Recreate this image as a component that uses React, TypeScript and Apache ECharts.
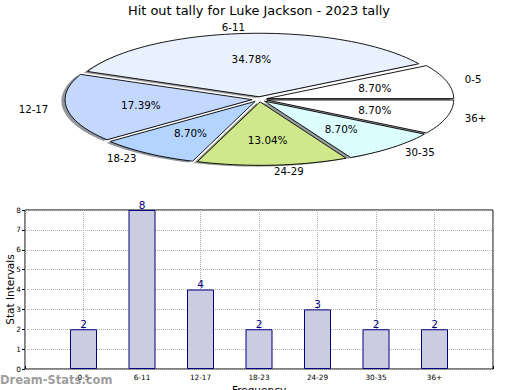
import React, { useEffect, useRef } from 'react';
import * as echarts from 'echarts';

const TITLE = 'Hit out tally for Luke Jackson - 2023 tally';
const categories = ['0-5', '6-11', '12-17', '18-23', '24-29', '30-35', '36+'];
const tallies = [2, 8, 4, 2, 3, 2, 2];
const sliceColors = ['#ffffff', '#eaf1fe', '#c4d8fe', '#b2d4fe', '#cfe88b', '#dcfeff', '#ffffff'];
const yTickValues = [0, 1, 2, 3, 4, 5, 6, 7, 8];

// pie layout (not data)
const CX = 259.5;
const CY = 99.3;
const RX = 187;
const RY = 63.5;
const EXPLODE = 0.04;
const SH_DX = -3.7;
const SH_DY = 1.3;

function shade(hex: string): string {
  const r = parseInt(hex.slice(1, 3), 16);
  const g = parseInt(hex.slice(3, 5), 16);
  const b = parseInt(hex.slice(5, 7), 16);
  return `rgba(${Math.round(r * 0.3)},${Math.round(g * 0.3)},${Math.round(b * 0.3)},0.55)`;
}

export default function App() {
  const ref = useRef<HTMLDivElement>(null);
  useEffect(() => {
    if (!ref.current) return;
    const chart = echarts.init(ref.current, null, { renderer: 'svg' });
    const total = tallies.reduce((a, b) => a + b, 0);

    const renderSlice = (params: any, api: any) => {
      const i = params.dataIndex;
      const v = api.value(1) as number;
      let cum = 0;
      for (let j = 0; j < i; j++) cum += tallies[j];
      const a1 = (cum / total) * Math.PI * 2;
      const a2 = ((cum + v) / total) * Math.PI * 2;
      const am = (a1 + a2) / 2;
      const ox = CX + EXPLODE * RX * Math.cos(am);
      const oy = CY - EXPLODE * RY * Math.sin(am);
      const pts: number[][] = [[ox, oy]];
      const n = Math.max(2, Math.ceil(((a2 - a1) / (Math.PI * 2)) * 160));
      for (let k = 0; k <= n; k++) {
        const a = a1 + ((a2 - a1) * k) / n;
        pts.push([ox + RX * Math.cos(a), oy - RY * Math.sin(a)]);
      }
      const shPts = pts.map((p) => [p[0] + SH_DX, p[1] + SH_DY]);
      const c = Math.cos(am);
      const s = Math.sin(am);
      return {
        type: 'group',
        children: [
          {
            type: 'polygon',
            z2: 0,
            shape: { points: shPts },
            style: { fill: shade(sliceColors[i]), stroke: null },
          },
          {
            type: 'polygon',
            z2: 10,
            shape: { points: pts },
            style: { fill: sliceColors[i], stroke: '#000', lineWidth: 0.9 },
          },
          {
            type: 'text',
            z2: 20,
            x: ox + 0.6 * RX * c,
            y: oy - 0.6 * RY * s,
            style: {
              text: ((v / total) * 100).toFixed(2) + '%',
              fill: '#000',
              fontSize: 10.4,
              fontFamily: 'DejaVu Sans',
              align: 'center',
              verticalAlign: 'middle',
            },
          },
          {
            type: 'text',
            z2: 20,
            x: ox + 1.1 * RX * c,
            y: oy - 1.1 * RY * s,
            style: {
              text: categories[i],
              fill: '#000',
              fontSize: 10.2,
              fontFamily: 'DejaVu Sans',
              align: c > 0 ? 'left' : 'right',
              verticalAlign: 'middle',
            },
          },
        ],
      };
    };

    const option: any = {
      animation: false,
      backgroundColor: '#fff',
      textStyle: { fontFamily: 'DejaVu Sans' },
      graphic: [
        {
          type: 'text',
          x: 259,
          y: 10,
          style: {
            text: TITLE,
            fill: '#000',
            fontSize: 12.9,
            fontFamily: 'DejaVu Sans',
            align: 'center',
            verticalAlign: 'middle',
          },
        },
        {
          type: 'text',
          x: 0,
          y: 380,
          z: 100,
          style: {
            text: 'Dream-Stats.com',
            fill: 'rgba(140,140,140,0.85)',
            fontSize: 11.5,
            fontWeight: 'bold',
            fontFamily: 'DejaVu Sans',
            align: 'left',
            verticalAlign: 'middle',
          },
        },
      ],
      grid: {
        left: 25,
        right: 27,
        top: 210,
        bottom: 21,
        containLabel: false,
        outerBoundsMode: 'none',
        show: true,
        borderColor: '#000',
        borderWidth: 1,
        backgroundColor: '#fff',
      },
      xAxis: {
        type: 'value',
        min: 0,
        max: 8,
        interval: 1,
        axisLine: { show: false },
        axisTick: { show: true, inside: true, length: 3, lineStyle: { color: '#000' } },
        axisLabel: {
          formatter: (val: number) => categories[val - 1] ?? '',
          fontSize: 7.3,
          color: '#000',
          margin: 5,
        },
        splitLine: { show: true, lineStyle: { type: 'dotted', color: '#b0b0b0' } },
        name: 'Frequency',
        nameLocation: 'middle',
        nameGap: 15,
        nameMoveOverlap: false,
        nameTextStyle: { fontSize: 10.5, color: '#000' },
      },
      yAxis: {
        type: 'value',
        min: yTickValues[0],
        max: yTickValues[yTickValues.length - 1],
        interval: 1,
        axisLine: { show: false },
        axisTick: { show: true, length: 3, lineStyle: { color: '#000' } },
        axisLabel: { fontSize: 7.3, color: '#000', margin: 4 },
        splitLine: { show: true, lineStyle: { type: 'dotted', color: '#b0b0b0' } },
        name: 'Stat Intervals',
        nameLocation: 'middle',
        nameGap: 10,
        nameMoveOverlap: false,
        nameTextStyle: { fontSize: 10.5, color: '#000' },
      },
      series: [
        {
          type: 'bar',
          data: categories.map((c, i) => [i + 1, tallies[i]]),
          barWidth: 27,
          itemStyle: { color: '#cccce0', borderColor: '#000080', borderWidth: 1 },
          label: {
            show: true,
            position: 'top',
            distance: 0,
            color: '#000080',
            fontSize: 10.5,
          },
        },
        {
          type: 'custom',
          coordinateSystem: 'none',
          data: categories.map((c, i) => [i, tallies[i]]),
          renderItem: renderSlice,
        },
      ],
    };
    chart.setOption(option);
    return () => chart.dispose();
  }, []);
  return (
    <div
      ref={ref}
      style={{ position: 'fixed', left: 0, top: 0, width: 520, height: 390 }}
    />
  );
}
